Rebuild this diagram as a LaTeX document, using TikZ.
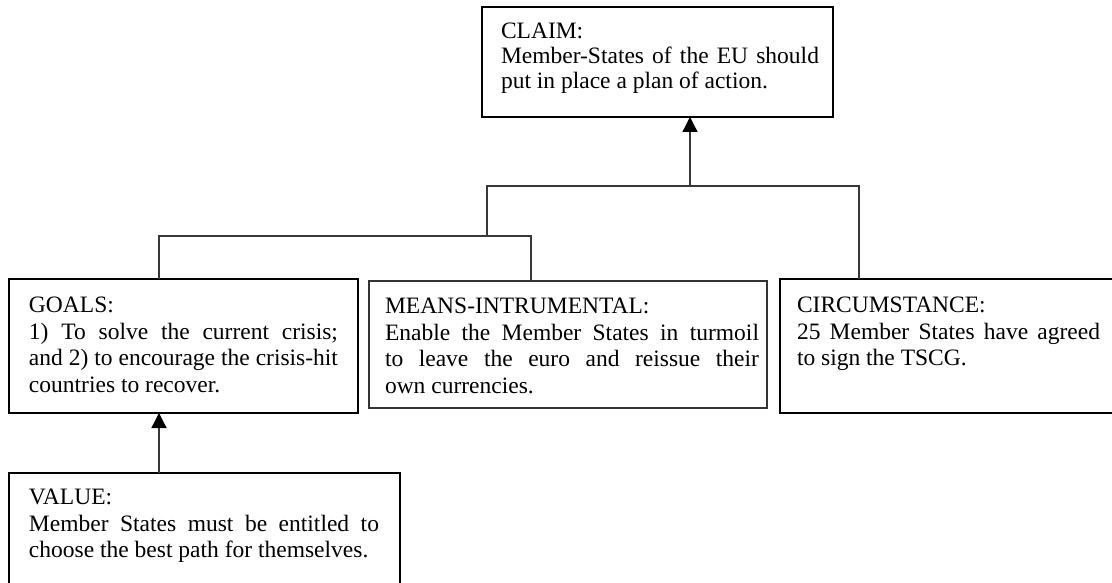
\documentclass[tikz,border=0pt]{standalone}
\usepackage{fontspec}
\setmainfont{Liberation Serif}
\usetikzlibrary{arrows.meta}
\tolerance=10000
% box body: left pad, text width, right pad, box height, top pad, text
\newcommand{\argbody}[6]{\hspace*{#1}\parbox[t][#4][t]{#2}{\vspace*{#5}#6}\hspace*{#3}}
\begin{document}
\begin{tikzpicture}[x=1pt,y=-1pt,
  argbox/.style={draw=black, line width=1.1pt, anchor=north west,
    inner sep=0pt, outer sep=0pt, font=\fontsize{23.5}{26.5}\selectfont},
  meansbox/.style={argbox, draw=black!80, line width=1.9pt},
  link/.style={draw=black!78, line width=1.3pt},
  uparrow/.style={link, -{Triangle[width=15pt,length=15pt,color=black]}}]
\clip (0,0) rectangle (1112,583);

% argument boxes
\node[argbox, font=\fontsize{23.5}{25}\selectfont] (claim) at (482,7)
  {\argbody{19pt}{318pt}{14pt}{110pt}{16.4pt}{CLAIM:\\
   Member-States of the EU should\linebreak put in place a plan of action.}};
\node[argbox] (goals) at (9,279)
  {\argbody{20pt}{309pt}{20pt}{134pt}{18.4pt}{GOALS:\\
   1) To solve the current crisis;\linebreak and 2) to encourage the crisis-hit\linebreak countries to recover.}};
\node[meansbox] (means) at (369,281)
  {\argbody{16pt}{374pt}{8pt}{127pt}{17.4pt}{MEANS-INTRUMENTAL:\\
   Enable the Member States in turmoil\linebreak to leave the euro and reissue their\linebreak own currencies.}};
\node[argbox] (circ) at (780,279)
  {\argbody{17pt}{303pt}{60pt}{134pt}{18.4pt}{CIRCUMSTANCE:\\
   25 Member States have agreed\linebreak to sign the TSCG.}};
\node[argbox] (value) at (9,473)
  {\argbody{20pt}{350pt}{21pt}{140pt}{16.4pt}{VALUE:\\
   Member States must be entitled to\linebreak choose the best path for themselves.}};

% junction points of the connectors
\coordinate (topR) at (859,186);
\coordinate (topL) at (487,186);
\coordinate (topJ) at (690,186);
\coordinate (lowJ) at (487,236);
\coordinate (lowL) at (159,236);
\coordinate (lowR) at (531,236);
\coordinate (valJ) at (159,473);

% connectors
\draw[link] (topR |- circ.north) -- (topR) -- (topL) -- (lowJ);
\draw[link] (lowL |- goals.north) -- (lowL) -- (lowR) -- (lowR |- means.north);
\draw[uparrow] (topJ) -- (topJ |- claim.south);
\draw[uparrow] (valJ |- value.north) -- (valJ |- goals.south);
\end{tikzpicture}
\end{document}
